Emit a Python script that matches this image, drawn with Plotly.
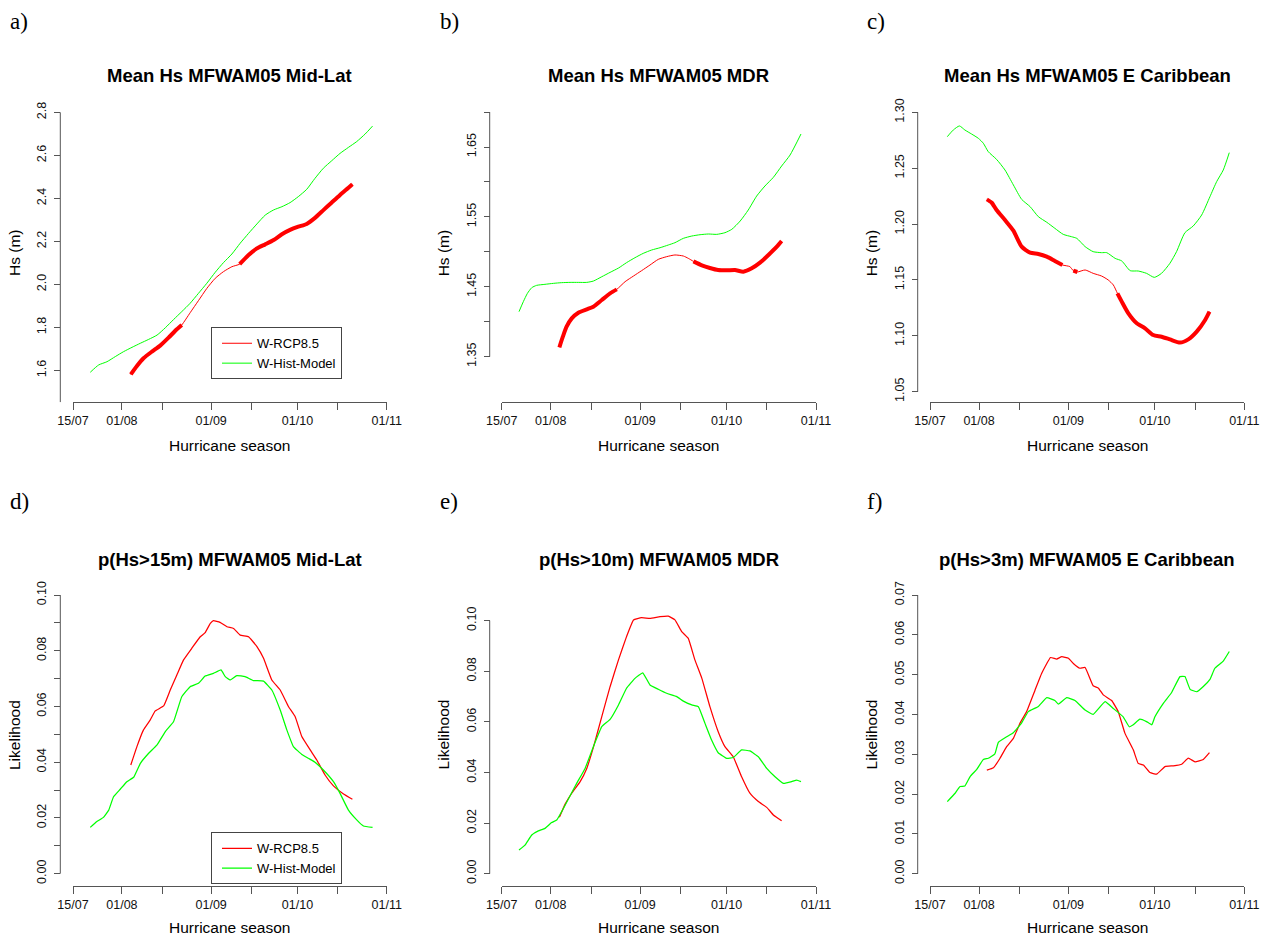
import plotly.graph_objects as go
import pandas as pd

# ---------------- data (x = days after 15 July) ----------------
season_start = "2000-07-15"
xtick_days = [0, 17, 31, 48, 62, 78, 92, 109]
xtick_text = ["15/07", "01/08", "", "01/09", "", "01/10", "", "01/11"]

series_names = ["W-RCP8.5", "W-Hist-Model"]

# a) Mean Hs Mid-Lat
ga_days = [6.0, 8.9, 11.8, 14.7, 17.6, 20.5, 23.4, 26.3, 29.2, 32.1, 35.0, 37.8, 40.7, 43.6, 46.5, 49.4, 52.3, 55.2,
           58.1, 61.0, 63.9, 66.8, 69.7, 72.6, 75.4, 78.3, 81.2, 84.1, 87.0, 89.9, 92.8, 95.7, 98.6, 101.5, 104.1]
ga_vals = [1.591, 1.625, 1.640, 1.664, 1.687, 1.707, 1.726, 1.744, 1.764, 1.798, 1.837, 1.873, 1.912, 1.958, 2.005,
           2.056, 2.101, 2.141, 2.191, 2.237, 2.281, 2.322, 2.346, 2.361, 2.380, 2.408, 2.442, 2.493, 2.540, 2.575,
           2.609, 2.637, 2.664, 2.699, 2.736]
ra_days = [20.1, 22.2, 24.5, 27.4, 30.3, 33.2, 36.1, 37.8, 40.7, 43.6, 46.5, 49.4, 52.3, 55.2, 57.9, 61.0, 63.9,
           66.8, 69.7, 72.6, 75.4, 78.3, 81.2, 84.1, 87.0, 89.9, 92.8, 95.7, 97.1]
ra_vals = [1.581, 1.620, 1.656, 1.687, 1.715, 1.752, 1.791, 1.811, 1.868, 1.924, 1.981, 2.028, 2.059, 2.082, 2.094,
           2.136, 2.167, 2.186, 2.206, 2.233, 2.253, 2.268, 2.281, 2.309, 2.345, 2.381, 2.416, 2.449, 2.465]
ra_sig = [True] * 8 + [False] * 6 + [True] * 15

# b) Mean Hs MDR
gb_days = [6.0, 7.5, 8.9, 10.4, 12.1, 15.0, 17.9, 20.8, 23.7, 26.6, 29.5, 31.8, 34.7, 37.6, 40.5, 43.3, 46.2, 49.1,
           52.0, 54.9, 57.8, 60.1, 63.0, 65.9, 68.8, 71.7, 74.6, 77.4, 79.8, 82.7, 85.5, 88.4, 91.3, 94.2, 97.1,
           100.0, 103.8]
gb_vals = [1.4144, 1.4287, 1.4406, 1.4487, 1.4520, 1.4535, 1.4549, 1.4559, 1.4563, 1.4563, 1.4563, 1.4582, 1.4644,
           1.4706, 1.4768, 1.4845, 1.4916, 1.4978, 1.5026, 1.5059, 1.5098, 1.5131, 1.5193, 1.5226, 1.5245, 1.5255,
           1.5250, 1.5274, 1.5322, 1.5441, 1.5598, 1.5798, 1.5942, 1.6066, 1.6228, 1.6385, 1.6686]
rb_days = [20.0, 21.2, 22.5, 24.3, 26.6, 29.5, 31.8, 34.7, 37.6, 39.9, 42.8, 45.7, 48.5, 51.4, 54.3, 57.2, 60.1,
           63.0, 64.7, 66.5, 69.4, 72.2, 75.1, 78.0, 80.9, 83.8, 86.7, 89.6, 92.5, 95.4, 97.1]
rb_vals = [1.3634, 1.3786, 1.3929, 1.4048, 1.4129, 1.4177, 1.4215, 1.4311, 1.4406, 1.4463, 1.4573, 1.4654, 1.4730,
           1.4811, 1.4892, 1.4931, 1.4955, 1.4940, 1.4907, 1.4864, 1.4807, 1.4769, 1.4740, 1.4735, 1.4740, 1.4716,
           1.4764, 1.4845, 1.4955, 1.5074, 1.5155]
rb_sig = [True] * 10 + [False] * 9 + [True] * 12

# c) Mean Hs E Caribbean
gc_days = [6.0, 8.1, 10.2, 12.1, 14.4, 16.8, 18.5, 20.2, 23.1, 26.0, 28.9, 31.8, 34.7, 37.6, 40.5, 43.3, 46.2, 49.1,
           50.9, 53.8, 56.6, 59.5, 61.3, 64.2, 66.5, 69.4, 72.2, 75.1, 77.8, 80.3, 83.2, 85.5, 88.4, 91.3, 94.2,
           97.1, 99.4, 101.7, 103.8]
gc_vals = [1.2782, 1.2842, 1.2878, 1.2842, 1.2806, 1.2767, 1.2723, 1.2648, 1.2579, 1.2484, 1.2350, 1.2221, 1.2156,
           1.2066, 1.2016, 1.1962, 1.1908, 1.1887, 1.1872, 1.1798, 1.1753, 1.1744, 1.1744, 1.1693, 1.1670, 1.1583,
           1.1580, 1.1559, 1.1523, 1.1559, 1.1649, 1.1753, 1.1923, 1.1983, 1.2081, 1.2245, 1.2380, 1.2484, 1.2639]
rc_days = [19.7, 21.4, 23.1, 26.0, 28.9, 31.8, 34.7, 37.6, 40.5, 43.3, 45.9, 48.5, 49.7, 51.1, 53.8, 56.6, 59.5,
           61.8, 63.6, 65.0, 66.5, 68.8, 71.7, 74.6, 77.4, 80.3, 83.2, 86.7, 89.6, 92.5, 95.4, 96.9]
rc_vals = [1.2221, 1.2191, 1.2126, 1.2036, 1.1941, 1.1798, 1.1744, 1.1732, 1.1708, 1.1670, 1.1634, 1.1619, 1.1583,
           1.1571, 1.1589, 1.1559, 1.1535, 1.1500, 1.1455, 1.1380, 1.1306, 1.1201, 1.1112, 1.1067, 1.1007, 1.0992,
           1.0968, 1.0939, 1.0968, 1.1037, 1.1141, 1.1216]
rc_sig = [True] * 11 + [False] + [True] * 2 + [False] * 5 + [True] * 13

# d) p(Hs>15m) Mid-Lat
gd_days = [6.0, 8.3, 10.6, 12.4, 14.1, 16.4, 18.7, 21.1, 23.4, 26.3, 29.2, 32.1, 34.9, 37.8, 40.7, 43.6, 45.9, 48.8,
           51.4, 52.9, 54.6, 56.9, 59.8, 62.7, 66.2, 69.1, 72.0, 74.3, 76.6, 79.5, 81.8, 84.1, 87.0, 90.5, 92.8,
           95.7, 98.6, 100.9, 104.1]
gd_vals = [0.0166, 0.0187, 0.0202, 0.0228, 0.0276, 0.0303, 0.0330, 0.0346, 0.0396, 0.0432, 0.0462, 0.0510, 0.0545,
           0.0635, 0.0671, 0.0683, 0.0709, 0.0719, 0.0731, 0.0707, 0.0695, 0.0711, 0.0707, 0.0693, 0.0691, 0.0659,
           0.0587, 0.0516, 0.0456, 0.0428, 0.0414, 0.0400, 0.0372, 0.0330, 0.0288, 0.0228, 0.0193, 0.0171, 0.0166]
rd_days = [20.1, 22.2, 24.5, 26.8, 28.6, 31.5, 33.8, 36.1, 38.4, 41.3, 44.2, 45.9, 47.7, 48.8, 51.1, 53.5, 55.8,
           58.1, 61.0, 63.9, 66.2, 69.1, 72.0, 74.9, 77.2, 79.5, 82.4, 84.7, 87.6, 90.5, 94.0, 97.1]
rd_vals = [0.0390, 0.0456, 0.0516, 0.0551, 0.0584, 0.0602, 0.0659, 0.0713, 0.0767, 0.0809, 0.0850, 0.0865, 0.0898,
           0.0908, 0.0902, 0.0886, 0.0880, 0.0856, 0.0850, 0.0815, 0.0773, 0.0695, 0.0659, 0.0599, 0.0563, 0.0492,
           0.0444, 0.0408, 0.0354, 0.0315, 0.0286, 0.0267]

# e) p(Hs>10m) MDR
ge_days = [6.0, 8.1, 10.4, 12.7, 15.0, 17.3, 19.1, 20.8, 23.1, 26.0, 28.9, 31.8, 34.7, 37.6, 40.5, 43.3, 46.2, 48.9,
           51.4, 54.3, 57.2, 60.7, 63.0, 65.9, 68.2, 70.5, 72.8, 75.1, 78.0, 80.3, 83.2, 86.1, 89.0, 91.9, 94.8,
           97.7, 100.6, 102.3, 103.8]
ge_vals = [0.0094, 0.0113, 0.0153, 0.0169, 0.0179, 0.0202, 0.0212, 0.0245, 0.0294, 0.0357, 0.0416, 0.0502, 0.0581,
           0.0610, 0.0667, 0.0733, 0.0772, 0.0794, 0.0746, 0.0729, 0.0713, 0.0700, 0.0682, 0.0667, 0.0660, 0.0594,
           0.0528, 0.0478, 0.0456, 0.0459, 0.0489, 0.0485, 0.0462, 0.0416, 0.0383, 0.0357, 0.0364, 0.0370, 0.0364]
re_days = [20.0, 22.0, 24.3, 27.2, 29.5, 31.8, 34.7, 37.6, 40.5, 43.3, 45.7, 48.5, 51.4, 54.9, 57.8, 60.1, 62.4,
           64.7, 67.0, 69.4, 72.2, 75.1, 77.4, 80.3, 83.2, 86.1, 89.0, 91.9, 94.2, 97.1]
re_vals = [0.0223, 0.0275, 0.0318, 0.0364, 0.0416, 0.0499, 0.0621, 0.0739, 0.0845, 0.0937, 0.1003, 0.1012, 0.1009,
           0.1016, 0.1018, 0.1003, 0.0957, 0.0930, 0.0845, 0.0772, 0.0660, 0.0561, 0.0502, 0.0462, 0.0383, 0.0318,
           0.0285, 0.0262, 0.0232, 0.0209]

# f) p(Hs>3m) E Caribbean
gf_days = [6.0, 8.7, 10.4, 12.1, 13.9, 16.2, 18.5, 20.2, 22.5, 23.7, 26.6, 28.9, 31.8, 34.1, 37.6, 40.5, 43.3, 44.5,
           47.4, 50.3, 53.8, 56.6, 60.7, 63.6, 67.0, 69.1, 70.5, 72.8, 75.1, 76.9, 78.0, 80.9, 83.8, 86.7, 88.4,
           90.2, 92.5, 94.8, 97.1, 98.8, 101.7, 103.8]
gf_vals = [0.0181, 0.0202, 0.0219, 0.0220, 0.0244, 0.0262, 0.0287, 0.0290, 0.0301, 0.0330, 0.0344, 0.0354, 0.0379,
           0.0407, 0.0420, 0.0442, 0.0435, 0.0426, 0.0442, 0.0435, 0.0411, 0.0400, 0.0432, 0.0415, 0.0394, 0.0369,
           0.0374, 0.0388, 0.0382, 0.0374, 0.0394, 0.0428, 0.0455, 0.0495, 0.0495, 0.0463, 0.0457, 0.0470, 0.0488,
           0.0516, 0.0534, 0.0558]
rf_days = [19.7, 22.0, 24.3, 26.6, 28.9, 31.2, 33.5, 36.4, 38.7, 41.8, 43.9, 45.7, 48.0, 49.7, 52.0, 53.8, 56.6,
           58.4, 60.1, 63.0, 65.3, 67.6, 70.5, 72.2, 74.0, 76.3, 78.6, 81.5, 84.4, 87.3, 89.6, 91.9, 94.8, 96.9]
rf_vals = [0.0260, 0.0266, 0.0290, 0.0319, 0.0340, 0.0378, 0.0407, 0.0461, 0.0503, 0.0543, 0.0539, 0.0545, 0.0541,
           0.0528, 0.0516, 0.0518, 0.0472, 0.0466, 0.0449, 0.0435, 0.0407, 0.0353, 0.0311, 0.0277, 0.0273, 0.0254,
           0.0250, 0.0269, 0.0271, 0.0275, 0.0290, 0.0281, 0.0287, 0.0304]

titles = ["Mean Hs MFWAM05 Mid-Lat", "Mean Hs MFWAM05 MDR", "Mean Hs MFWAM05 E Caribbean",
          "p(Hs>15m) MFWAM05 Mid-Lat", "p(Hs>10m) MFWAM05 MDR", "p(Hs>3m) MFWAM05 E Caribbean"]
letters = ["a)", "b)", "c)", "d)", "e)", "f)"]
ylabels = ["Hs (m)", "Hs (m)", "Hs (m)", "Likelihood", "Likelihood", "Likelihood"]
xlabel = "Hurricane season"

ytick_vals = [
    [1.6, 1.8, 2.0, 2.2, 2.4, 2.6, 2.8],
    [1.35, 1.40, 1.45, 1.50, 1.55, 1.60, 1.65, 1.70],
    [1.05, 1.10, 1.15, 1.20, 1.25, 1.30],
    [0.00, 0.01, 0.02, 0.03, 0.04, 0.05, 0.06, 0.07, 0.08, 0.09, 0.10],
    [0.00, 0.02, 0.04, 0.06, 0.08, 0.10],
    [0.00, 0.01, 0.02, 0.03, 0.04, 0.05, 0.06, 0.07],
]
ytick_text = [
    ["1.6", "1.8", "2.0", "2.2", "2.4", "2.6", "2.8"],
    ["1.35", "", "1.45", "", "1.55", "", "1.65", ""],
    ["1.05", "1.10", "1.15", "1.20", "1.25", "1.30"],
    ["0.00", "", "0.02", "", "0.04", "", "0.06", "", "0.08", "", "0.10"],
    ["0.00", "0.02", "0.04", "0.06", "0.08", "0.10"],
    ["0.00", "0.01", "0.02", "0.03", "0.04", "0.05", "0.06", "0.07"],
]

panels = [
    (ga_days, ga_vals, ra_days, ra_vals, ra_sig),
    (gb_days, gb_vals, rb_days, rb_vals, rb_sig),
    (gc_days, gc_vals, rc_days, rc_vals, rc_sig),
    (gd_days, gd_vals, rd_days, rd_vals, None),
    (ge_days, ge_vals, re_days, re_vals, None),
    (gf_days, gf_vals, rf_days, rf_vals, None),
]

# ---------------- layout geometry (pixels) ----------------
W, H = 1266, 939
FONT = "Liberation Sans, Arial, Helvetica, sans-serif"
SERIF = "Liberation Serif, Times New Roman, serif"
AXC = "#555555"
RED, GREEN = "#ff0000", "#00ff00"

col_x = [(73.0, 386.7), (501.7, 816.0), (930.0, 1244.3)]
col_yaxis_px = [60.3, 489.7, 917.7]
col_letter_px = [8.0, 438.0, 865.0]
row_y = [(103.0, 402.3), (583.7, 885.7)]
row_title_px = [75.7, 559.3]
row_xlab_px = [445.7, 927.3]
row_letter_px = [21.5, 501.5]
# (value, pixel) pairs of two ticks per panel, to fix the vertical scale
yref_px = [((1.6, 370.33), (2.8, 112.33)), ((1.35, 356.67), (1.65, 147.0)), ((1.05, 391.67), (1.30, 112.33)),
           ((0.0, 873.67), (0.10, 595.0)), ((0.0, 873.67), (0.10, 620.67)), ((0.0, 873.67), (0.07, 595.0))]

base = pd.Timestamp(season_start)


def to_dates(days):
    return [base + pd.Timedelta(hours=round(d * 24)) for d in days]


def px2val(p, ref):
    (v0, p0), (v1, p1) = ref
    return v0 + (p0 - p) * (v1 - v0) / (p0 - p1)


fig = go.Figure()
layout = dict(width=W, height=H, margin=dict(l=0, r=0, t=0, b=0), paper_bgcolor="white",
              plot_bgcolor="white", showlegend=True)
shapes, annotations = [], []

for i, (gd, gv, rd, rv, sig) in enumerate(panels):
    n = i + 1
    sfx = "" if n == 1 else str(n)
    row, col = divmod(i, 3)
    x0, x1 = col_x[col]
    yt, yb = row_y[row]
    ref = yref_px[i]
    top = row == 0
    thin = 1.0 if top else 1.25
    smooth = 0.6 if top else 0.3
    leg = {0: "legend", 3: "legend2"}.get(i)

    fig.add_trace(go.Scatter(x=to_dates(rd), y=rv, mode="lines", name=series_names[0],
                             line=dict(color=RED, width=thin, shape="spline", smoothing=smooth),
                             xaxis="x" + sfx, yaxis="y" + sfx, showlegend=leg is not None,
                             legend=leg or "legend", legendrank=1))
    fig.add_trace(go.Scatter(x=to_dates(gd), y=gv, mode="lines", name=series_names[1],
                             line=dict(color=GREEN, width=thin, shape="spline", smoothing=smooth),
                             xaxis="x" + sfx, yaxis="y" + sfx, showlegend=leg is not None,
                             legend=leg or "legend", legendrank=2))
    if sig is not None:
        fig.add_trace(go.Scatter(x=to_dates(rd), y=[v if s else None for v, s in zip(rv, sig)], mode="lines",
                                 name=series_names[0] + " (significant)",
                                 line=dict(color=RED, width=4, shape="spline", smoothing=0.6),
                                 connectgaps=False, xaxis="x" + sfx, yaxis="y" + sfx, showlegend=False))

    yr = [px2val(yb, ref), px2val(yt, ref)]
    layout["xaxis" + sfx] = dict(
        domain=[x0 / W, x1 / W], anchor="y" + sfx, type="date",
        range=[base, base + pd.Timedelta(days=xtick_days[-1])],
        tickmode="array", tickvals=to_dates(xtick_days), ticktext=xtick_text,
        showline=True, linecolor=AXC, linewidth=1, ticks="outside", ticklen=7, tickcolor=AXC, tickwidth=1,
        showgrid=False, zeroline=False, tickfont=dict(family=FONT, size=12.5, color="#111"),
        automargin=False, fixedrange=True)
    layout["yaxis" + sfx] = dict(
        domain=[1 - yb / H, 1 - yt / H], anchor="free", position=col_yaxis_px[col] / W, range=yr,
        tickmode="array", tickvals=ytick_vals[i], ticktext=ytick_text[i], tickangle=-90,
        showline=False, ticks="outside", ticklen=6, tickcolor=AXC, tickwidth=1, ticklabelstandoff=3,
        showgrid=False, zeroline=False, tickfont=dict(family=FONT, size=12.5, color="#111"),
        automargin=False, fixedrange=True)
    # y-axis line (R style: spans the tick range)
    lo = yr[0] if i == 0 else min(ytick_vals[i])
    shapes.append(dict(type="line", xref="paper", yref="y" + sfx, x0=col_yaxis_px[col] / W,
                       x1=col_yaxis_px[col] / W, y0=lo, y1=max(ytick_vals[i]),
                       line=dict(color=AXC, width=1)))
    xc = (x0 + x1) / 2
    annotations += [
        dict(text="<b>%s</b>" % titles[i], xref="paper", yref="paper", x=xc / W, y=1 - row_title_px[row] / H,
             xanchor="center", yanchor="middle", showarrow=False, font=dict(family=FONT, size=18.5, color="black")),
        dict(text=xlabel, xref="paper", yref="paper", x=xc / W, y=1 - row_xlab_px[row] / H,
             xanchor="center", yanchor="middle", showarrow=False, font=dict(family=FONT, size=15.5, color="black")),
        dict(text=ylabels[i], xref="paper", yref="paper", x=(col_yaxis_px[col] - 46) / W,
             y=1 - (yt + yb) / 2 / H, xanchor="center", yanchor="middle", textangle=-90, showarrow=False,
             font=dict(family=FONT, size=15.5, color="black")),
        dict(text=letters[i], xref="paper", yref="paper", x=col_letter_px[col] / W, y=1 - row_letter_px[row] / H,
             xanchor="left", yanchor="middle", showarrow=False, font=dict(family=SERIF, size=23, color="black")),
    ]

leg_common = dict(xanchor="left", yanchor="top", bgcolor="white", bordercolor="#444", borderwidth=1,
                  font=dict(family=FONT, size=13, color="black"), tracegroupgap=0, itemwidth=30,
                  traceorder="normal", indentation=5)
layout["legend"] = dict(x=211 / W, y=1 - 327.3 / H, **leg_common)
layout["legend2"] = dict(x=211 / W, y=1 - 832.3 / H, **leg_common)
layout["shapes"] = shapes
layout["annotations"] = annotations
fig.update_layout(**layout)
fig.write_html("out.html", config={"displayModeBar": False},
               post_script="document.body.style.margin='0';document.body.style.overflow='hidden';")
